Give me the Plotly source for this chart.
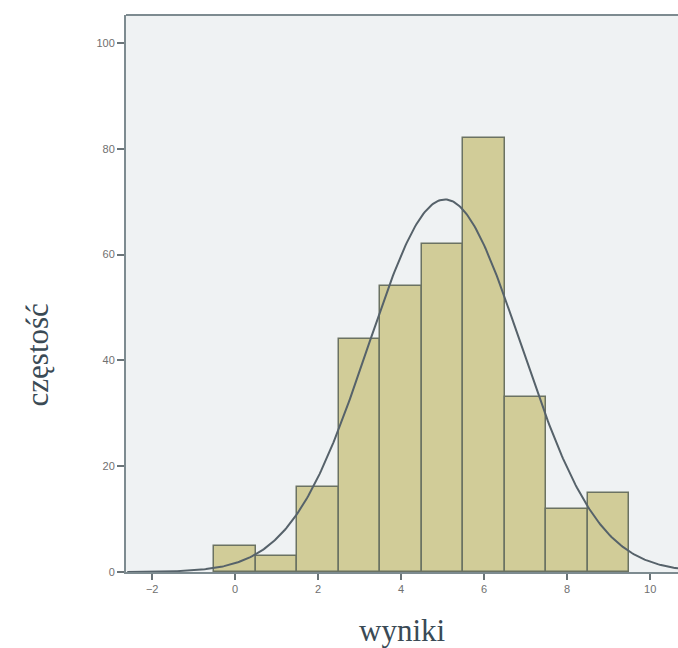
import numpy as np
import plotly.graph_objects as go

# Histogram counts per score (bin width 1, centred on the integer scores)
scores = [0, 1, 2, 3, 4, 5, 6, 7, 8, 9]
counts = [5, 3, 16, 44, 54, 62, 82, 33, 12, 15]
x_ticks = [-2, 0, 2, 4, 6, 8, 10]
y_ticks = [0, 20, 40, 60, 80, 100]

# Normal curve fitted to the histogram (mean / sd of the binned data)
s = np.array(scores, dtype=float)
c = np.array(counts, dtype=float)
n = c.sum()
mean = (s * c).sum() / n
sd = np.sqrt(((s - mean) ** 2 * c).sum() / (n - 1))
xc = np.linspace(-2.6, 10.7, 400)
yc = n * 1.0 / (sd * np.sqrt(2 * np.pi)) * np.exp(-0.5 * ((xc - mean) / sd) ** 2)

axis_col = "#7d8b90"
fig = go.Figure()
fig.add_trace(go.Bar(
    x=scores, y=counts, width=1,
    marker=dict(color="#d1cc98", line=dict(color="#6b7262", width=1.5)),
    hoverinfo="skip",
))
fig.add_trace(go.Scatter(
    x=xc, y=yc, mode="lines",
    line=dict(color="#56626a", width=2),
    hoverinfo="skip",
))

tick_font = dict(family="Liberation Sans, Arial, sans-serif", size=11, color="#707070")
title_font = dict(family="Liberation Serif, Times New Roman, serif", size=31, color="#3a4a55")
fig.update_layout(
    width=678, height=648,
    margin=dict(l=126, r=0, t=15, b=76),
    paper_bgcolor="white",
    plot_bgcolor="#eff2f3",
    showlegend=False,
    bargap=0,
    xaxis=dict(
        range=[-2.63, 10.67], tickvals=x_ticks, ticks="outside", ticklen=6,
        tickwidth=1.5, tickcolor="#6a7478", showline=True, linecolor=axis_col,
        linewidth=2, showgrid=False, zeroline=False,
        tickfont=tick_font,
    ),
    yaxis=dict(
        range=[0, 105.3], tickvals=y_ticks, ticks="outside", ticklen=7,
        tickwidth=1.5, tickcolor="#6a7478", showline=True, linecolor=axis_col,
        linewidth=2, showgrid=False, zeroline=False, tickfont=tick_font,
    ),
    shapes=[
        # top frame line of the plot area
        dict(type="line", xref="paper", yref="paper", x0=0, x1=1, y0=1, y1=1,
             line=dict(color=axis_col, width=2)),
    ],
    annotations=[
        dict(text="wyniki", xref="paper", yref="paper", x=0.5, y=-0.07,
             xanchor="center", yanchor="top", showarrow=False, font=title_font),
        dict(text="częstość", xref="paper", yref="paper", x=-0.16, y=0.39,
             xanchor="center", yanchor="middle", textangle=-90, showarrow=False,
             font=title_font),
    ],
)

fig.write_html("out.html")
